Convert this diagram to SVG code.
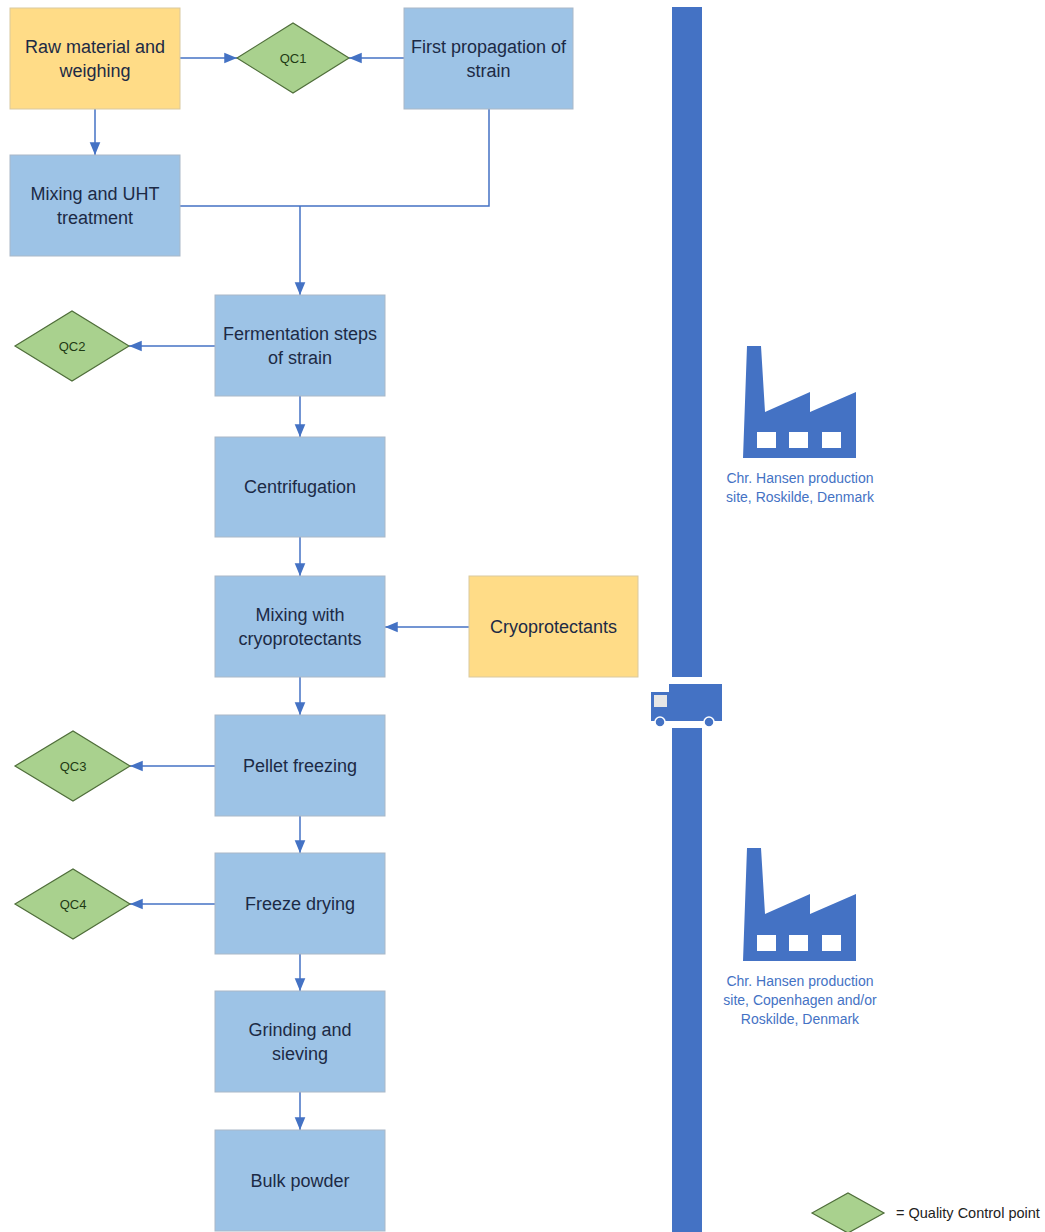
<svg xmlns="http://www.w3.org/2000/svg" width="1045" height="1232" viewBox="0 0 1045 1232">
<defs>
<style>
.box{fill:#9DC3E6;stroke:#A9B8C8;stroke-width:1}
.ybox{fill:#FFDC87;stroke:#D9C9A0;stroke-width:1}
.qc{fill:#A9D18E;stroke:#4F6E3A;stroke-width:1.2}
.t{font-family:"Liberation Sans",Arial,sans-serif;font-size:18px;fill:#1C2A45;text-anchor:middle}
.q{font-family:"Liberation Sans",Arial,sans-serif;font-size:13px;fill:#1E3A14;text-anchor:middle}
.site{font-family:"Liberation Sans",Arial,sans-serif;font-size:14px;fill:#4472C4;text-anchor:middle}
.leg{font-family:"Liberation Sans",Arial,sans-serif;font-size:14.5px;fill:#222222}
.c{fill:none;stroke:#4472C4;stroke-width:1.5}
.ic{fill:#4472C4}
</style>
<marker id="ah" viewBox="0 0 12 10" refX="12" refY="5" markerWidth="8.5" markerHeight="7.5" markerUnits="strokeWidth" orient="auto">
<path d="M0,0 L12,5 L0,10 z" fill="#4472C4"/>
</marker>
</defs>
<rect width="1045" height="1232" fill="#FFFFFF"/>

<g id="connectors">
<path class="c" d="M180,58 H237" marker-end="url(#ah)"/>
<path class="c" d="M404,58 H349" marker-end="url(#ah)"/>
<path class="c" d="M95,109 V155" marker-end="url(#ah)"/>
<path class="c" d="M489,109 V206 H180"/>
<path class="c" d="M300,206 V295" marker-end="url(#ah)"/>
<path class="c" d="M215,346 H129" marker-end="url(#ah)"/>
<path class="c" d="M300,396 V437" marker-end="url(#ah)"/>
<path class="c" d="M300,537 V576" marker-end="url(#ah)"/>
<path class="c" d="M469,627 H385" marker-end="url(#ah)"/>
<path class="c" d="M300,677 V715" marker-end="url(#ah)"/>
<path class="c" d="M215,766 H130" marker-end="url(#ah)"/>
<path class="c" d="M300,816 V853" marker-end="url(#ah)"/>
<path class="c" d="M215,904 H130" marker-end="url(#ah)"/>
<path class="c" d="M300,954 V991" marker-end="url(#ah)"/>
<path class="c" d="M300,1092 V1130" marker-end="url(#ah)"/>
</g>

<g id="raw-material">
<rect class="ybox" x="10" y="8" width="170" height="101"/>
<text class="t" x="95" y="53">Raw material and</text>
<text class="t" x="95" y="77">weighing</text>
</g>
<g id="qc1">
<polygon class="qc" points="237,58 293,23 349,58 293,93"/>
<text class="q" x="293" y="63">QC1</text>
</g>
<g id="first-propagation">
<rect class="box" x="404" y="8" width="169" height="101"/>
<text class="t" x="488.5" y="53">First propagation of</text>
<text class="t" x="488.5" y="77">strain</text>
</g>
<g id="mixing-uht">
<rect class="box" x="10" y="155" width="170" height="101"/>
<text class="t" x="95" y="200">Mixing and UHT</text>
<text class="t" x="95" y="224">treatment</text>
</g>
<g id="fermentation">
<rect class="box" x="215" y="295" width="170" height="101"/>
<text class="t" x="300" y="340">Fermentation steps</text>
<text class="t" x="300" y="364">of strain</text>
</g>
<g id="qc2">
<polygon class="qc" points="15,346 72,311 129,346 72,381"/>
<text class="q" x="72" y="351">QC2</text>
</g>
<g id="centrifugation">
<rect class="box" x="215" y="437" width="170" height="100"/>
<text class="t" x="300" y="493">Centrifugation</text>
</g>
<g id="mixing-cryo">
<rect class="box" x="215" y="576" width="170" height="101"/>
<text class="t" x="300" y="621">Mixing with</text>
<text class="t" x="300" y="645">cryoprotectants</text>
</g>
<g id="cryoprotectants">
<rect class="ybox" x="469" y="576" width="169" height="101"/>
<text class="t" x="553.5" y="633">Cryoprotectants</text>
</g>
<g id="pellet-freezing">
<rect class="box" x="215" y="715" width="170" height="101"/>
<text class="t" x="300" y="772">Pellet freezing</text>
</g>
<g id="qc3">
<polygon class="qc" points="15,766 73,731 130,766 73,801"/>
<text class="q" x="73" y="771">QC3</text>
</g>
<g id="freeze-drying">
<rect class="box" x="215" y="853" width="170" height="101"/>
<text class="t" x="300" y="910">Freeze drying</text>
</g>
<g id="qc4">
<polygon class="qc" points="15,904 73,869 130,904 73,939"/>
<text class="q" x="73" y="909">QC4</text>
</g>
<g id="grinding">
<rect class="box" x="215" y="991" width="170" height="101"/>
<text class="t" x="300" y="1036">Grinding and</text>
<text class="t" x="300" y="1060">sieving</text>
</g>
<g id="bulk-powder">
<rect class="box" x="215" y="1130" width="170" height="101"/>
<text class="t" x="300" y="1187">Bulk powder</text>
</g>

<g id="transport-line">
<rect class="ic" x="672" y="7" width="30" height="670"/>
<rect class="ic" x="672" y="728" width="30" height="504"/>
</g>
<g id="truck">
<rect class="ic" x="669" y="684" width="53" height="37"/>
<rect class="ic" x="651" y="692" width="18" height="29"/>
<rect x="654" y="695" width="13" height="12" fill="#E6E6E6"/>
<circle cx="660" cy="722" r="5" fill="#4472C4" stroke="#FFFFFF" stroke-width="1.5"/>
<circle cx="709" cy="722" r="5" fill="#4472C4" stroke="#FFFFFF" stroke-width="1.5"/>
</g>

<g id="factory-roskilde">
<path class="ic" d="M743,458 L747,346 L761,346 L765,412 L810,392 L810,412 L856,392 L856,458 Z"/>
<rect x="757" y="432" width="19" height="16" fill="#FFFFFF"/>
<rect x="789" y="432" width="19" height="16" fill="#FFFFFF"/>
<rect x="822" y="432" width="19" height="16" fill="#FFFFFF"/>
<text class="site" x="800" y="483">Chr. Hansen production</text>
<text class="site" x="800" y="502">site, Roskilde, Denmark</text>
</g>
<g id="factory-copenhagen">
<path class="ic" d="M743,961 L747,848 L761,848 L765,914 L810,894 L810,914 L856,894 L856,961 Z"/>
<rect x="757" y="935" width="19" height="16" fill="#FFFFFF"/>
<rect x="789" y="935" width="19" height="16" fill="#FFFFFF"/>
<rect x="822" y="935" width="19" height="16" fill="#FFFFFF"/>
<text class="site" x="800" y="986">Chr. Hansen production</text>
<text class="site" x="800" y="1005">site, Copenhagen and/or</text>
<text class="site" x="800" y="1024">Roskilde, Denmark</text>
</g>

<g id="legend">
<polygon class="qc" points="812,1213 848,1193 884,1213 848,1233"/>
<text class="leg" x="896" y="1218">= Quality Control point</text>
</g>
</svg>
